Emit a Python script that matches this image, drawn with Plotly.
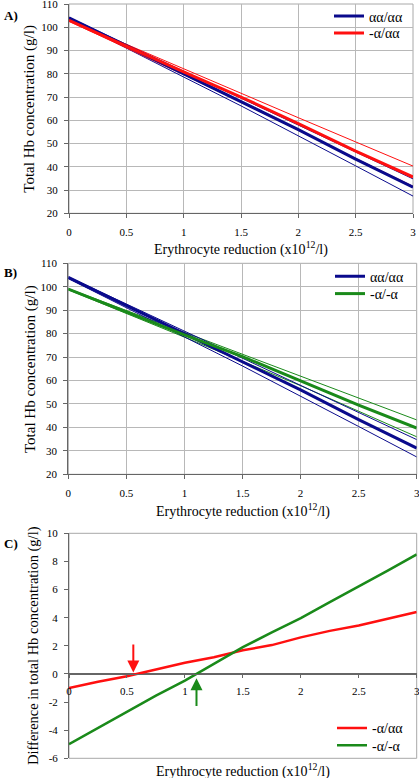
import plotly.graph_objects as go

# ---------------- data ----------------
x_ab = [0, 0.5, 1, 1.5, 2, 2.5, 3]

aa_mean = [104, 92, 80, 68.3, 56, 43.3, 31.2]
aa_upper = [104.2, 92.6, 81, 69.6, 58, 46.5, 34.8]
aa_lower = [103.5, 91.2, 78.6, 66.2, 53.4, 40.4, 27.4]

a_aa_mean = [103, 91.8, 80.8, 70, 58.6, 46.75, 35.6]
a_aa_upper = [103.2, 92.6, 82.2, 71.7, 61.1, 50.7, 40.3]
a_aa_lower = [102.6, 91.2, 79.6, 67.8, 55.6, 43.6, 31.6]

a_a_mean = [99, 89.3, 79.5, 70.2, 60, 49.5, 39.7]
a_a_upper = [99.2, 89.9, 80.6, 71.4, 62.1, 52.6, 43.2]
a_a_lower = [98.7, 88.7, 78.5, 68.2, 57.8, 46.9, 36.0]

x_c = [0, 0.25, 0.5, 0.75, 1, 1.25, 1.5, 1.75, 2, 2.25, 2.5, 2.75, 3]
diff_a_aa = [-1.0, -0.55, -0.17, 0.33, 0.8, 1.18, 1.68, 2.05, 2.6, 3.06, 3.45, 3.93, 4.4]
diff_a_a = [-5.0, -3.85, -2.7, -1.55, -0.48, 0.7, 1.9, 2.95, 3.97, 5.1, 6.2, 7.35, 8.5]

zero_cross_red = [0.555, 2.2, 0.1]     # x, arrow tail y, arrow tip y
zero_cross_green = [1.1, -2.38, -0.3]

x_ticks = [0, 0.5, 1, 1.5, 2, 2.5, 3]
x_ticklabels = ["0", "0.5", "1", "1.5", "2", "2.5", "3"]
y_ticks_ab = [20, 30, 40, 50, 60, 70, 80, 90, 100, 110]
y_ticks_c = [-6, -4, -2, 0, 2, 4, 6, 8, 10]

names = {"aa": "αα/αα", "a_aa": "-α/αα", "a_a": "-α/-α"}

# ---------------- style ----------------
W, H = 419, 778
FONT = "Liberation Serif"
BLUE = "#0a0a8c"
RED = "#ff1010"
GREEN = "#1a8a1a"
GRID = "#b8b8b8"
AXC = "#666666"


def fx(p):
    return p / W


def fy(p):
    return 1 - p / H


fig = go.Figure()


def add_line(x, y, color, width, xa, ya, name=None, legend="legend"):
    fig.add_trace(go.Scatter(
        x=x, y=y, mode="lines", line=dict(color=color, width=width),
        xaxis=xa, yaxis=ya, name=name if name else "",
        showlegend=name is not None, legend=legend, hoverinfo="skip"))


# Panel A
add_line(x_ab, aa_upper, BLUE, 1, "x", "y")
add_line(x_ab, aa_lower, BLUE, 1, "x", "y")
add_line(x_ab, a_aa_upper, RED, 1, "x", "y")
add_line(x_ab, a_aa_lower, RED, 1, "x", "y")
add_line(x_ab, aa_mean, BLUE, 3, "x", "y", names["aa"], "legend")
add_line(x_ab, a_aa_mean, RED, 3, "x", "y", names["a_aa"], "legend2")

# Panel B
add_line(x_ab, a_a_upper, GREEN, 1, "x2", "y2")
add_line(x_ab, a_a_lower, GREEN, 1, "x2", "y2")
add_line(x_ab, aa_upper, BLUE, 1, "x2", "y2")
add_line(x_ab, aa_lower, BLUE, 1, "x2", "y2")
add_line(x_ab, aa_mean, BLUE, 3, "x2", "y2", names["aa"], "legend3")
add_line(x_ab, a_a_mean, GREEN, 3, "x2", "y2", names["a_a"], "legend4")

# Panel C
add_line(x_c, diff_a_aa, RED, 2.5, "x3", "y3", names["a_aa"], "legend5")
add_line(x_c, diff_a_a, GREEN, 2.5, "x3", "y3", names["a_a"], "legend6")

dom_a = dict(x=[fx(69), fx(413)], y=[fy(213.3), fy(4)])
dom_b = dict(x=[fx(68.3), fx(416.7)], y=[fy(474.3), fy(263.3)])
dom_c = dict(x=[fx(69), fx(416.7)], y=[fy(758.3), fy(533.3)])

tickfont = dict(family=FONT, size=11, color="black")


def xaxis(dom, anchor, grid=True, **kw):
    d = dict(domain=dom, anchor=anchor, range=[0, 3], tickmode="array",
             tickvals=x_ticks, ticktext=x_ticklabels, tickfont=tickfont,
             ticks="outside", ticklen=4, tickcolor=AXC, showline=True,
             linecolor=AXC, linewidth=1, showgrid=grid, gridcolor=GRID,
             gridwidth=1, zeroline=False, automargin=False, fixedrange=True,
             ticklabelstandoff=4, ticklabeloverflow="allow")
    d.update(kw)
    return d


def yaxis(dom, anchor, rng, ticks, grid=True, **kw):
    d = dict(domain=dom, anchor=anchor, range=rng, tickmode="array",
             tickvals=ticks, ticktext=[str(t) for t in ticks], tickfont=tickfont,
             ticks="outside", ticklen=4, tickcolor=AXC, showline=True,
             linecolor=AXC, linewidth=1, showgrid=grid, gridcolor=GRID,
             gridwidth=1, zeroline=False, automargin=False, fixedrange=True,
             ticklabelstandoff=4, ticklabeloverflow="allow")
    d.update(kw)
    return d


# C: x axis crosses at y = 0
zero_pos = dom_c["y"][0] + (0 - (-6)) / 16 * (dom_c["y"][1] - dom_c["y"][0])

legend_common = dict(font=dict(family=FONT, size=14, color="black"),
                     bgcolor="rgba(0,0,0,0)", borderwidth=0, itemwidth=30,
                     xanchor="left", yanchor="middle", tracegroupgap=0)

# one legend per row: (text start x, row centre y)
legend_rows = [(369, 16.5), (369, 33.3), (370, 276.7), (370, 294), (372, 728.3), (372, 745.7)]
legends = {}
for i, (lx, ly) in enumerate(legend_rows):
    key = "legend" if i == 0 else f"legend{i + 1}"
    legends[key] = dict(legend_common, x=fx(lx - 40), y=fy(ly))

fig.update_layout(
    width=W, height=H, margin=dict(l=0, r=0, t=0, b=0),
    paper_bgcolor="white", plot_bgcolor="white",
    font=dict(family=FONT, color="black"),
    xaxis=xaxis(dom_a["x"], "y"),
    yaxis=yaxis(dom_a["y"], "x", [20, 110], y_ticks_ab),
    xaxis2=xaxis(dom_b["x"], "y2"),
    yaxis2=yaxis(dom_b["y"], "x2", [20, 110], y_ticks_ab),
    xaxis3=xaxis(dom_c["x"], "free", grid=False, position=zero_pos,
                 ticklen=3),
    yaxis3=yaxis(dom_c["y"], "x3", [-6, 10], y_ticks_c, grid=False,
                 zeroline=True, zerolinecolor=AXC, zerolinewidth=1),
    showlegend=True,
    **legends,
)

# box borders
for xr, yr in [("x domain", "y domain"), ("x2 domain", "y2 domain"), ("x3 domain", "y3 domain")]:
    fig.add_shape(type="rect", xref=xr, yref=yr, x0=0, x1=1, y0=0, y1=1,
                  line=dict(color="#a8a8a8", width=1), layer="below")

# arrows in C
for (xa, tail, tip), col in [(zero_cross_red, RED), (zero_cross_green, GREEN)]:
    fig.add_annotation(x=xa, y=tip, ax=xa, ay=tail, xref="x3", yref="y3",
                       axref="x3", ayref="y3", text="", showarrow=True,
                       arrowhead=2, arrowsize=1.2, arrowwidth=2, arrowcolor=col,
                       standoff=0)

xtitle = "Erythrocyte reduction (x10<sup>12</sup>/l)"
ann = [
    # panel letters
    dict(x=fx(2), y=fy(15), text="<b>A)</b>", xanchor="left"),
    dict(x=fx(2), y=fy(272), text="<b>B)</b>", xanchor="left"),
    dict(x=fx(2), y=fy(543), text="<b>C)</b>", xanchor="left"),
]
for a in ann:
    fig.add_annotation(xref="paper", yref="paper", showarrow=False,
                       yanchor="middle", font=dict(family=FONT, size=13, color="black"), **a)

titles = [
    (fx(241), fy(248), xtitle, 0, 14),
    (fx(242.5), fy(510), xtitle, 0, 14),
    (fx(243), fy(770), xtitle, 0, 14),
    (fx(30), fy(108.7), "Total Hb concentration (g/l)", -90, 15),
    (fx(30), fy(369), "Total Hb concentration (g/l)", -90, 15),
    (fx(33), fy(646), "Difference in total Hb concentration (g/l)", -90, 14.5),
]
for x, y, t, ang, sz in titles:
    fig.add_annotation(x=x, y=y, xref="paper", yref="paper", text=t,
                       showarrow=False, textangle=ang, xanchor="center",
                       yanchor="middle", font=dict(family=FONT, size=sz, color="black"))

fig.write_html("out.html", config={"displayModeBar": False},
               post_script="document.body.style.margin='0';document.body.style.overflow='hidden';")
